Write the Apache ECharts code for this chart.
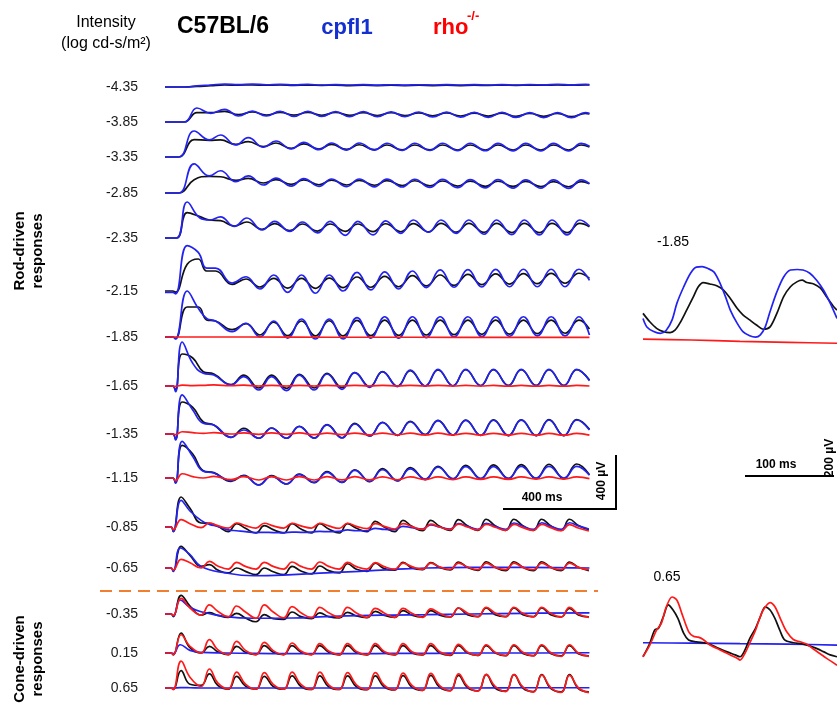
<!DOCTYPE html>
<html><head><meta charset="utf-8">
<script src="https://cdn.jsdelivr.net/npm/echarts@6/dist/echarts.min.js"></script>
<style>html,body{margin:0;padding:0;background:#fff}#c{width:837px;height:707px}</style>
</head><body><div id="c"></div>
<script>
// ---------- labels ----------
const intensityLabels = ['-4.35','-3.85','-3.35','-2.85','-2.35','-2.15','-1.85','-1.65','-1.35','-1.15','-0.85','-0.65','-0.35','0.15','0.65'];
const strainNames = ['C57BL/6','cpfl1','rho'];

// ---------- sample times (ms) ----------
const tA = [0,70,115,165,215,265,315,365,415,465,515,565,615,665,715,765,815,865,915,965,1015,1065,1115,1165,1215,1265,1315,1365,1415,1465,1515,1530];
const tB = [0,50,105,160,200,255,300,355,400,455,500,555,600,655,700,755,800,855,900,955,1000,1055,1100,1155,1200,1255,1300,1355,1400,1455,1500,1530];
const tC = [0,42,80,126,160,200,250,295,350,395,450,495,550,595,650,695,750,795,850,895,950,995,1050,1095,1150,1195,1250,1295,1350,1395,1450,1495,1530];
const tD = [0,28,38,80,120,150,182,242,292,342,392,442,492,542,592,642,692,742,792,842,892,942,992,1042,1092,1142,1192,1242,1292,1342,1392,1442,1492,1530];
const tE = [0,28,38,62,100,138,176,238,284,338,384,438,484,538,584,638,684,738,784,838,884,938,984,1038,1084,1138,1184,1238,1284,1338,1384,1438,1484,1530];
const tF = [0,22,30,58,90,130,160,190,228,258,290,328,358,390,428,458,490,528,558,590,628,658,690,728,758,790,828,858,890,928,958,990,1028,1058,1090,1128,1158,1190,1228,1258,1290,1328,1358,1390,1428,1458,1490,1528];
const tSlow = [0,22,30,55,90,130,220,320,460,580,700,820,940,1100,1300,1530];
const tFlat = [0,300,600,900,1200,1530];

// ---------- main traces (µV) ----------
const wt435 = [0,0,4,10,15,14,16,13,15,12,14,12,14,11,13,11,13,11,13,11,13,11,13,12,14,12,14,13,15,13,15,15];
const cp435 = [0,0,8,15,22,18,22,17,20,16,19,15,18,15,18,14,17,14,17,15,18,15,18,15,18,15,18,16,19,16,19,18];
const wt385 = [0,0,70,70,80,55,75,52,72,52,72,50,72,50,70,48,70,48,68,46,68,45,66,44,66,42,65,42,65,40,65,60];
const cp385 = [0,0,105,65,95,45,82,45,80,42,80,42,78,40,78,40,76,40,75,38,74,36,72,35,72,34,70,33,70,32,70,65];
const wt335 = [0,0,130,125,128,95,115,78,105,65,98,60,94,57,92,55,90,54,90,53,90,52,90,52,90,52,90,52,90,52,90,75];
const cp335 = [0,0,195,128,165,90,145,73,120,60,110,55,105,52,105,52,103,50,103,50,103,48,103,47,102,46,102,45,102,45,102,80];
const wt285 = [0,0,100,125,122,95,110,75,100,65,98,62,96,60,95,58,93,56,92,54,90,52,89,50,88,49,87,48,86,47,85,70];
const cp285 = [0,0,218,128,167,85,128,60,112,52,108,50,105,48,105,46,104,45,103,42,102,40,100,38,100,37,99,36,98,35,98,70];
const wt235 = [0,0,190,160,135,130,90,120,65,108,55,105,52,105,50,105,48,107,47,108,46,110,44,110,42,110,41,110,40,110,40,110,85];
const cp235 = [0,0,270,150,135,158,87,150,60,125,50,120,38,125,20,125,23,128,35,135,43,135,35,135,28,135,25,135,23,135,23,135,90];
const wt215 = [0,0,-8,200,240,150,150,50,90,30,95,22,95,20,97,25,105,28,110,32,115,38,120,42,125,48,128,52,130,55,132,58,133,95];
const cp215 = [-10,-10,-22,340,290,172,172,60,107,15,120,-10,120,-17,120,0,140,8,143,15,150,25,158,28,160,30,162,32,163,32,163,32,163,80];
const wt185 = [0,0,-10,225,225,128,120,55,100,15,112,10,120,8,122,8,125,10,127,12,127,15,127,18,127,20,127,22,127,25,127,28,127,60];
const cp185 = [0,0,-15,345,215,140,120,40,103,0,120,-8,135,-15,135,-15,145,-8,152,-8,152,-5,152,0,152,3,152,5,152,8,152,8,152,15];
const rho185 = [0,0,-2,-2,-3,-3];
const wt165 = [0,0,-30,240,210,107,90,10,82,-15,82,-18,88,-15,95,-12,100,-5,108,-2,115,0,120,2,122,3,122,4,122,4,122,4,122,45];
const cp165 = [0,0,-43,330,170,95,82,8,70,-30,70,-35,82,-30,90,-25,100,-10,107,-5,120,0,125,0,125,2,125,2,125,2,125,2,125,40];
const rho165 = [0,0,-3,6,3,5,8,2,6,0,5,0,5,0,5,0,5,0,5,0,5,0,5,0,4,0,4,-1,4,-1,4,-1,4,0];
const wt135 = [0,0,-40,240,200,90,68,-25,43,-32,45,-32,58,-30,70,-28,80,-15,88,-10,95,-5,102,-8,105,-10,106,-12,107,-12,108,-12,108,35];
const cp135 = [0,0,-45,293,180,80,68,-25,30,-32,43,-32,55,-32,68,-30,75,-15,85,-10,92,-5,100,-8,102,-10,103,-12,104,-12,105,-12,105,30];
const rho135 = [0,0,-5,17,10,5,10,0,8,-3,8,-3,8,-5,7,-5,7,-6,6,-6,6,-7,6,-7,5,-8,5,-8,5,-9,4,-9,4,-9];
const wt115 = [0,0,-35,245,180,55,40,-25,20,-52,18,-45,30,-35,48,-33,62,-28,70,-22,78,-12,88,-8,95,-6,98,-5,100,-5,103,-5,105,25];
const cp115 = [0,0,-38,275,162,50,38,-20,17,-52,12,-45,25,-33,42,-33,57,-25,62,-20,68,-8,82,-5,85,-3,86,-2,87,-1,87,0,87,20];
const rho115 = [0,0,-20,32,10,0,12,-12,10,-15,10,-15,10,-15,10,-14,10,-14,9,-13,9,-12,9,-12,8,-10,8,-10,8,-8,8,-8,8,-5];
const wt085 = [0,0,-35,225,140,30,28,5, -35,25,-10, -45,10,-20, -45,25,-15, -45,25,-15, -45,25,-10, -35,42,0, -35,50,5, -28,50,5, -25,55,10, -25,58,10, -25,58,10, -25,58,10, -25,58,12, -20];
const cp085 = [0,0,-33,200,120,50,20,5, -22,-28,-35, -42,-40,-42, -42,-38,-40, -38,-33,-35, -33,-22,-28, -28,-10,-18, -20,5,-5, -15,15,0, -15,25,5, -17,28,5, -17,30,5, -17,32,5, -17,32,8, -15];
const rho085 = [0,0,-20,55,25,-5,30,10, -8,30,10, -8,28,8, -8,28,8, -8,28,8, -10,28,5, -12,25,5, -15,25,3, -18,22,0, -20,22,0, -22,20,-2, -25,20,-5, -25,20,-5, -28,18,-8, -30];
const wt065 = [0,0,-25,162,95,12,25,-15, -37,0,-25, -50,0,-28, -50,12,-22, -45,15,-20, -37,32,-10, -25,37,-5, -17,42,0, -12,40,5, -15,45,5, -18,47,5, -20,47,5, -20,47,5, -20,45,5, -20];
const cp065 = [0,0,-25,150,100,12,-37,-58,-50,-37,-25,-12,0,5,5,0];
const rho065 = [0,0,-15,65,40,0,50,15, -8,42,12, -8,42,12, -8,45,12, -8,45,12, -8,42,10, -8,40,10, -8,37,10, -10,37,8, -10,37,8, -12,37,5, -12,37,5, -13,37,5, -13,37,5, -13];
const wt035 = [0,0,-20,140,60,-8,10,-10, -25,5,-30, -58,-5,-35, -40,15,-20, -35,8,-20, -30,12,-15, -28,20,-10, -25,25,-8, -22,25,-8, -22,45,-5, -20,45,-5, -20,45,-5, -20,45,-5, -22,42,-8, -22];
const cp035 = [0,0,-15,105,50,17,-20,-32,-30,-20,-12,-8,-5,0,5,8];
const rho035 = [0,0,-10,117,45,-8,68,20, -20,60,15, -32,68,15, -28,55,10, -28,50,10, -25,50,8, -25,42,8, -25,42,5, -25,38,5, -22,45,8, -20,50,8, -20,50,5, -22,50,5, -22,50,0, -25];
const wt015 = [0,0,-15,150,40,0,50,10, -12,50,5, -12,55,5, -12,55,5, -12,55,5, -14,55,3, -14,55,3, -15,55,0, -15,55,0, -18,55,0, -18,55,0, -20,55,-3, -20,55,-3, -22,55,-5, -22];
const cp015 = [0,0,-5,62,20,5,0,-3,-5,-5,-5,-3,-3,0,0,2];
const rho015 = [0,0,-12,137,50,0,100,25, -12,87,20, -12,80,18, -12,75,15, -12,70,15, -12,70,12, -12,70,12, -12,70,10, -12,70,10, -15,65,8, -18,62,5, -20,62,5, -22,62,3, -25,62,0, -25];
const wt_065 = [0,0,-12,137,30,20,112,20, -10,92,15, -10,92,12, -10,95,12, -12,95,10, -12,95,10, -14,95,8, -15,98,5, -18,100,5, -20,100,3, -22,105,0, -25,105,0, -28,105,-3, -30,105,-5, -30];
const cp_065 = [0,0,0,3,2,0,0,0,0,0,0,0,0,0,2,2];
const rho_065 = [0,0,-12,212,85,12,150,40, -8,125,30, -10,122,28, -10,125,28, -12,125,25, -12,122,25, -14,122,22, -15,118,20, -18,115,18, -22,112,15, -25,108,12, -28,105,8, -32,102,5, -35,100,2, -37];

// ---------- inset traces (ms, µV) ----------
const ins185BlueT = [0,4,11,18,24,30,35,42,49,55,61,67,73,78,85,90,97,103,110,116,121,126,131,138,145,152,159,165,172,179,186,193,200];
const ins185Blue = [46,28,18,14,21,43,79,114,143,156,157,153,146,128,93,64,36,18,9,6,11,28,61,103,135,150,151,150,143,128,107,79,46];
const ins185BlackT = [0,7,14,21,28,33,38,45,52,57,62,69,76,83,90,97,103,110,117,124,131,138,145,152,159,164,169,176,183,189,196,200];
const ins185Black = [57,39,25,18,16,21,36,64,93,114,123,120,116,107,89,68,54,43,32,23,28,57,93,114,125,128,123,120,111,93,73,64];
const ins185RedT = [0,50,100,150,200];
const ins185Red = [2,0,-3,-5,-7];
const ins065RedT = [0,7,14,19,24,30,35,40,47,52,57,62,69,76,83,90,97,100,105,110,116,119,124,131,136,143,148,155,162,169,176,183,189,200];
const ins065Red = [-30,-5,27,42,77,98,91,63,24,14,12,7,-5,-12,-19,-26,-33,-37,-23,-1,27,45,70,86,77,45,24,7,2,-3,-14,-24,-33,-48];
const ins065BlackT = [0,7,12,16,21,26,31,36,42,47,55,66,76,86,95,100,105,110,116,121,126,131,136,141,146,155,165,176,186,193,200];
const ins065Black = [-30,-1,27,31,56,81,70,52,20,6,2,-1,-10,-19,-26,-30,-16,9,31,56,77,70,52,27,6,0,-3,-10,-19,-26,-30];
const ins065BlueT = [0,50,100,150,200];
const ins065Blue = [0,-1,-2,-3,-5];

// ---------- styling / layout ----------
const FONT = '"Liberation Sans", Arial, Helvetica, sans-serif';
const C_BLACK = '#111111', C_BLUE = '#2222f2', C_RED = '#ff1a1a';
const rowBaseY = [87,122,157,193,238,291,337,386,434,478,527,568,614,653,692];
const rows = [
  [[tA,wt435,C_BLACK],[tA,cp435,C_BLUE]],
  [[tA,wt385,C_BLACK],[tA,cp385,C_BLUE]],
  [[tB,wt335,C_BLACK],[tB,cp335,C_BLUE]],
  [[tB,wt285,C_BLACK],[tB,cp285,C_BLUE]],
  [[tC,wt235,C_BLACK],[tC,cp235,C_BLUE]],
  [[tD,wt215,C_BLACK],[tD,cp215,C_BLUE]],
  [[tD,wt185,C_BLACK],[tD,cp185,C_BLUE],[tFlat,rho185,C_RED]],
  [[tE,wt165,C_BLACK],[tE,cp165,C_BLUE],[tE,rho165,C_RED]],
  [[tE,wt135,C_BLACK],[tE,cp135,C_BLUE],[tE,rho135,C_RED]],
  [[tE,wt115,C_BLACK],[tE,cp115,C_BLUE],[tE,rho115,C_RED]],
  [[tF,wt085,C_BLACK],[tF,cp085,C_BLUE],[tF,rho085,C_RED]],
  [[tF,wt065,C_BLACK],[tSlow,cp065,C_BLUE],[tF,rho065,C_RED]],
  [[tF,wt035,C_BLACK],[tSlow,cp035,C_BLUE],[tF,rho035,C_RED]],
  [[tF,wt015,C_BLACK],[tSlow,cp015,C_BLUE],[tF,rho015,C_RED]],
  [[tF,wt_065,C_BLACK],[tSlow,cp_065,C_BLUE],[tF,rho_065,C_RED]]
];
const pairs = (t, v) => { const n = Math.min(t.length, v.length); const o = []; for (let i = 0; i < n; i++) o.push([t[i], v[i]]); return o; };

const grid = [], xAxis = [], yAxis = [], series = [];
rows.forEach((traces, i) => {
  grid.push({left: 165, width: 430, top: rowBaseY[i] - 80, height: 100});
  xAxis.push({type: 'value', gridIndex: i, min: 0, max: 1550, show: false});
  yAxis.push({type: 'value', gridIndex: i, min: -150, max: 600, interval: 150,
    axisLine: {show: false}, axisTick: {show: false}, splitLine: {show: false},
    axisLabel: {show: true, margin: 27, fontSize: 14, color: '#1a1a1a', fontFamily: FONT,
      formatter: v => (v === 0 ? intensityLabels[i] : '')}});
  traces.forEach(([t, v, c]) => {
    series.push({type: 'line', xAxisIndex: i, yAxisIndex: i, data: pairs(t, v), showSymbol: false,
      smooth: 0.45, lineStyle: {color: c, width: 1.7}, silent: true, clip: false});
  });
});
// insets
const insets = [
  {left: 643, top: 246.6, min: -50, max: 200, tr: [[ins185BlackT, ins185Black, C_BLACK], [ins185BlueT, ins185Blue, C_BLUE], [ins185RedT, ins185Red, C_RED]]},
  {left: 643, top: 572.7, min: -100, max: 150, tr: [[ins065BlueT, ins065Blue, C_BLUE], [ins065BlackT, ins065Black, C_BLACK], [ins065RedT, ins065Red, C_RED]]}
];
insets.forEach(ins => {
  const gi = grid.length;
  grid.push({left: ins.left, width: 194, top: ins.top, height: 116.75});
  xAxis.push({type: 'value', gridIndex: gi, min: 0, max: 200, show: false});
  yAxis.push({type: 'value', gridIndex: gi, min: ins.min, max: ins.max, show: false});
  ins.tr.forEach(([t, v, c]) => {
    series.push({type: 'line', xAxisIndex: gi, yAxisIndex: gi, data: pairs(t, v), showSymbol: false,
      smooth: 0.3, lineStyle: {color: c, width: 1.7}, silent: true, clip: false});
  });
});

const txt = (x, y, text, o = {}) => ({type: 'text', x, y, rotation: o.rot || 0, silent: true,
  style: {text, fill: o.fill || '#000', font: o.font || ('14px ' + FONT),
    align: o.align || 'center', verticalAlign: 'middle', textAlign: o.align || 'center', textVerticalAlign: 'middle',
    lineHeight: o.lh || 18}});
const ln = (x1, y1, x2, y2, o = {}) => ({type: 'line', silent: true, shape: {x1, y1, x2, y2},
  style: {stroke: o.stroke || '#000', lineWidth: o.w || 2, lineDash: o.dash || null}});

const graphic = [
  txt(106, 23, 'Intensity', {font: '16px ' + FONT}),
  txt(106, 44, '(log cd-s/m²)', {font: '16px ' + FONT}),
  txt(223, 27, strainNames[0], {font: 'bold 23px ' + FONT}),
  txt(347, 28, strainNames[1], {font: 'bold 22px ' + FONT, fill: '#1530d0'}),
  txt(433, 28, strainNames[2], {font: 'bold 22px ' + FONT, fill: '#ff0000', align: 'left'}),
  txt(467, 16, '-/-', {font: 'bold 13px ' + FONT, fill: '#ff0000', align: 'left'}),
  txt(29, 251, 'Rod-driven\nresponses', {font: 'bold 15px ' + FONT, rot: Math.PI / 2}),
  txt(29, 659, 'Cone-driven\nresponses', {font: 'bold 15px ' + FONT, rot: Math.PI / 2}),
  ln(100, 591, 598, 591, {stroke: '#f08030', w: 2, dash: [12, 7]}),
  ln(503, 509, 617, 509), ln(616, 455, 616, 510),
  txt(542, 498, '400 ms', {font: 'bold 12px ' + FONT}),
  txt(602, 481, '400 µV', {font: 'bold 12px ' + FONT, rot: Math.PI / 2}),
  txt(673, 242, '-1.85', {font: '14px ' + FONT}),
  txt(667, 577, '0.65', {font: '14px ' + FONT}),
  ln(745, 476, 834, 476),
  txt(776, 465, '100 ms', {font: 'bold 12px ' + FONT}),
  txt(830, 458, '200 µV', {font: 'bold 12px ' + FONT, rot: Math.PI / 2})
];

const chart = echarts.init(document.getElementById('c'), null, {renderer: 'canvas'});
chart.setOption({animation: false, backgroundColor: '#fff', grid, xAxis, yAxis, series, graphic});
</script>
</body></html>
